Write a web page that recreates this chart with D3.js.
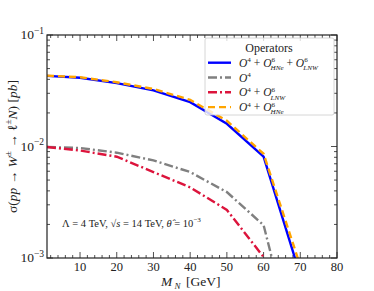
<!DOCTYPE html>
<html>
<head>
<meta charset="utf-8">
<script src="https://cdn.jsdelivr.net/npm/d3@7"></script>
<style>
  html, body { margin: 0; padding: 0; background: white; }
  svg { display: block; }
</style>
</head>
<body>
<div id="chart"></div>
<script>
// masses (GeV) and cross sections (pb)
const massN = [1, 10, 20, 30, 40, 50, 60, 70];
const sigmaFull = [0.0430, 0.0414, 0.0370, 0.0319, 0.0250, 0.0160, 0.0081, 0.0007];
const sigmaO4 = [0.0099, 0.0097, 0.0088, 0.0075, 0.0059, 0.0039, 0.00197, 0.0001];
const sigmaLNW = [0.0099, 0.0092, 0.0081, 0.0059, 0.0043, 0.0027, 0.00102, 0.00005];
const sigmaHNe = [0.0432, 0.0418, 0.0377, 0.0328, 0.0262, 0.0170, 0.0086, 0.00085];
const xTicks = [10, 20, 30, 40, 50, 60, 70, 80];
const yTicks = [-1, -2, -3];

const W = 374, H = 291;
const margin = { top: 35, right: 37, bottom: 33, left: 47 };
const width = W - margin.left - margin.right,
  height = H - margin.top - margin.bottom;
const NB = "\u00A0";

const svg = d3.select("#chart").append("svg")
  .attr("width", W).attr("height", H)
  .attr("font-family", "'Liberation Serif', 'DejaVu Serif', serif")
  .attr("fill", "#222");

const g = svg.append("g")
  .attr("transform", `translate(${margin.left}, ${margin.top})`);

const x = d3.scaleLinear().domain([1, 80]).range([0, width]);
const y = d3.scaleLog().domain([1e-3, 1e-1]).range([height, 0]);

g.append("clipPath").attr("id", "clip")
  .append("rect").attr("width", width).attr("height", height);

// minor ticks
const xMinor = d3.range(2, 81, 2).filter((d) => d % 10 !== 0);
const yMinor = [];
[1e-3, 1e-2].forEach((b) => { for (let k = 2; k < 10; k++) yMinor.push(b * k); });

function tickMarks(vals, scale, len, horizontal) {
  vals.forEach((v) => {
    if (horizontal) {
      const px = scale(v);
      g.append("line").attr("x1", px).attr("x2", px).attr("y1", height).attr("y2", height - len)
        .attr("stroke", "#222").attr("stroke-width", 0.8);
      g.append("line").attr("x1", px).attr("x2", px).attr("y1", 0).attr("y2", len)
        .attr("stroke", "#222").attr("stroke-width", 0.8);
    } else {
      const py = scale(v);
      g.append("line").attr("x1", 0).attr("x2", len).attr("y1", py).attr("y2", py)
        .attr("stroke", "#222").attr("stroke-width", 0.8);
      g.append("line").attr("x1", width).attr("x2", width - len).attr("y1", py).attr("y2", py)
        .attr("stroke", "#222").attr("stroke-width", 0.8);
    }
  });
}
tickMarks(xTicks, x, 6, true);
tickMarks(xMinor, x, 3, true);
tickMarks(yTicks.map((e) => Math.pow(10, e)), y, 6, false);
tickMarks(yMinor, y, 3, false);

// tick labels
g.append("g").selectAll("text").data(xTicks).enter().append("text")
  .attr("x", (d) => x(d)).attr("y", height + 13)
  .attr("text-anchor", "middle").attr("font-size", "12.5px")
  .text((d) => d);

const yl = g.append("g").selectAll("text").data(yTicks).enter().append("text")
  .attr("x", -3).attr("y", (d) => y(Math.pow(10, d)) + 4)
  .attr("text-anchor", "end").attr("font-size", "13.5px");
yl.append("tspan").text("10");
yl.append("tspan").attr("dy", -5.5).attr("font-size", "9.5px").text((d) => "\u2212" + Math.abs(d));

// lines
const series = [
  { vals: sigmaFull, color: "#0000ff", dash: null },
  { vals: sigmaO4, color: "#808080", dash: "9,3,2,3" },
  { vals: sigmaLNW, color: "#dc143c", dash: "9,3,2,3" },
  { vals: sigmaHNe, color: "#ffa500", dash: "7,4" },
];
const line = d3.line().x((d) => x(d[0])).y((d) => y(d[1]));
g.append("g").attr("clip-path", "url(#clip)").selectAll("path").data(series).enter()
  .append("path")
  .attr("d", (s) => line(massN.map((m, i) => [m, s.vals[i]])))
  .attr("fill", "none")
  .attr("stroke", (s) => s.color)
  .attr("stroke-width", 2.4)
  .attr("stroke-dasharray", (s) => s.dash);

// frame
g.append("rect").attr("width", width).attr("height", height)
  .attr("fill", "none").attr("stroke", "#222").attr("stroke-width", 1.2);

// math-ish text helper: parts = [text, style, shift, dx]
function mathText(sel, parts, size, scr = 0.68) {
  let cur = 0;
  parts.forEach((p) => {
    const [t, style, shift, dx] = p;
    const ts = sel.append("tspan").text(t.replace(/ /g, NB));
    const fs = shift === 0 ? size : size * scr;
    ts.attr("font-size", fs + "px");
    if (style === "i") ts.attr("font-style", "italic");
    const target = shift * size;
    if (target !== cur) { ts.attr("dy", target - cur); cur = target; }
    if (dx) ts.attr("dx", dx);
  });
  if (cur !== 0) sel.append("tspan").attr("dy", -cur).text("");
}

// legend
const lg = g.append("g").attr("transform", `translate(${width - 132}, 3)`);
lg.append("rect").attr("width", 129).attr("height", 77).attr("rx", 2)
  .attr("fill", "white").attr("fill-opacity", 0.8)
  .attr("stroke", "#ccc").attr("stroke-width", 0.8);
lg.append("text").attr("x", 64).attr("y", 14).attr("text-anchor", "middle")
  .attr("font-size", "12px").text("Operators");
const labels = [
  [["O", "i", 0], ["4", "n", -0.38], [" + ", "n", 0], ["O", "i", 0], ["6", "n", -0.38], ["HNe", "i", 0.28, -4.5], [" + ", "n", 0], ["O", "i", 0], ["6", "n", -0.38], ["LNW", "i", 0.28, -4.5]],
  [["O", "i", 0], ["4", "n", -0.38]],
  [["O", "i", 0], ["4", "n", -0.38], [" + ", "n", 0], ["O", "i", 0], ["6", "n", -0.38], ["LNW", "i", 0.28, -4.5]],
  [["O", "i", 0], ["4", "n", -0.38], [" + ", "n", 0], ["O", "i", 0], ["6", "n", -0.38], ["HNe", "i", 0.28, -4.5]],
];
series.forEach((s, i) => {
  const yy = 24.7 + i * 14.8;
  lg.append("line").attr("x1", 3).attr("x2", 26).attr("y1", yy).attr("y2", yy)
    .attr("stroke", s.color).attr("stroke-width", 2.4).attr("stroke-dasharray", s.dash);
  mathText(lg.append("text").attr("x", 34).attr("y", yy + 4), labels[i], 11.5, 0.62);
});

// annotation
mathText(g.append("text").attr("x", 15).attr("y", 192),
  [["\u039B = 4 TeV, \u221A", "n", 0], ["s", "i", 0], [" = 14 TeV, ", "n", 0], ["\u03B8\u0302", "i", 0], [" = 10", "n", 0], ["\u22123", "n", -0.45]], 10.5);

// x axis label, pieces placed one by one
svg.append("text").attr("x", 161).attr("y", 286).attr("font-size", "13.5px")
  .attr("font-style", "italic").text("M");
svg.append("text").attr("x", 174.5).attr("y", 289).attr("font-size", "9px")
  .attr("font-style", "italic").text("N");
svg.append("text").attr("x", 186).attr("y", 286).attr("font-size", "13.5px")
  .text("[GeV]");

mathText(svg.append("text")
  .attr("transform", `translate(17, ${margin.top + height / 2}) rotate(-90)`)
  .attr("text-anchor", "middle"),
  [["\u03C3(", "n", 0], ["pp", "i", 0], [" \u2192 ", "n", 0], ["W", "i", 0], ["\u00B1", "n", -0.45], [" \u2192 \u2113", "n", 0], ["\u00B1", "n", -0.45], ["N", "i", 0], [") [", "n", 0], ["pb", "i", 0], ["]", "n", 0]], 13.5);
</script>
</body>
</html>
